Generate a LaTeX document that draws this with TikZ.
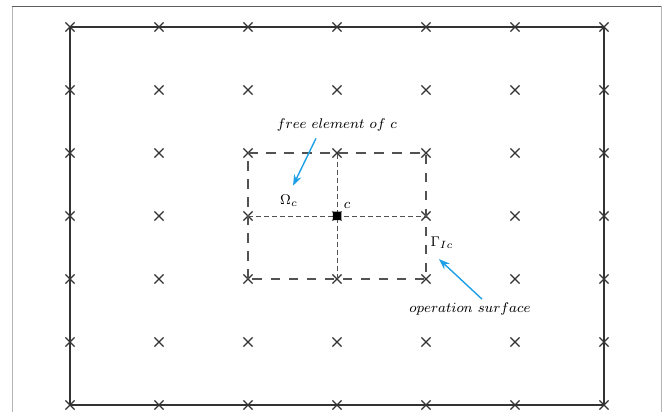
\documentclass[tikz,border=0pt]{standalone}
\usepackage{tikz}
\usetikzlibrary{arrows.meta,shapes.misc,positioning}
\definecolor{ink}{HTML}{333333}
\definecolor{rim}{HTML}{B4B4B4}
\definecolor{sky}{HTML}{1EA0E6}
\tikzset{
  gridmark/.style={draw=ink,cross out,line width=0.7pt,minimum size=0.16cm,inner sep=0pt},
  longdash/.style={draw=ink!85,line width=0.7pt,dash pattern=on 0.19cm off 0.17cm},
  shortdash/.style={draw=ink!85,line width=0.5pt,dash pattern=on 0.09cm off 0.07cm},
  pointer/.style={draw=sky,line width=0.8pt,-{Stealth[length=2.2mm,width=1.6mm]}},
  lbl/.style={font=\footnotesize,inner sep=1pt}
}
\begin{document}
\begin{tikzpicture}
\useasboundingbox (-1.4,-0.14) rectangle (11.9,8.1);
\draw[rim,line width=0.5pt] (-1.16,-0.5) -- (-1.16,7.98);
\draw[rim,line width=0.5pt] (11.82,7.98) -- (11.82,-0.5);
\draw[ink!80,line width=0.5pt] (-1.16,7.98) -- (11.82,7.98);
% grid of marks
\foreach \i in {0,...,6}
  \foreach \j in {0,...,6}
    \node[gridmark] (g-\i-\j) at (1.78*\i,1.26*\j) {};
\draw[ink,line width=0.8pt] (g-0-0.center) rectangle (g-6-6.center);
% free element
\draw[longdash] (g-2-2.center) rectangle (g-4-4.center);
\draw[shortdash] (g-2-3.center) -- (g-4-3.center);
\draw[shortdash] (g-3-2.center) -- (g-3-4.center);
\node[fill=black,rectangle,rounded corners=0.6pt,minimum size=0.17cm,inner sep=0pt] (ctr) at (g-3-3) {};
\node[lbl] (clbl) at (5.54,4.0) {$c$};
\node[lbl] (omega) at (4.38,4.08) {$\Omega_c$};
\node[lbl] (gamma) at (7.44,3.24) {$\Gamma_{Ic}$};
\node[lbl] (free) at (5.34,5.6) {$free\ element\ of\ c$};
\node[lbl] (ops) at (8.0,1.92) {$operation\ surface$};
\draw[pointer] ([shift={(-0.42,-0.1)}]free.south) -- ([shift={(0.08,0.15)}]omega.north);
\draw[pointer] ([shift={(0.24,0.03)}]ops.north) -- ([shift={(-0.06,-0.16)}]gamma.south);
\end{tikzpicture}
\end{document}
